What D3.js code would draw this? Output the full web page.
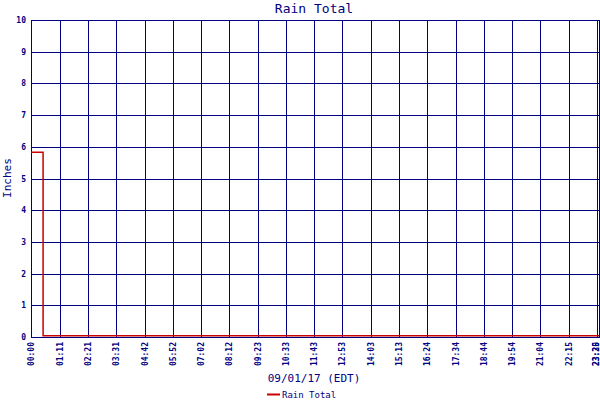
<!DOCTYPE html>
<meta charset="utf-8">
<style>
    body { margin: 0; background: #fff; }
    svg { display: block; }
    text { font-family: "DejaVu Sans Mono", "Liberation Mono", monospace; fill: #000080; }
</style>

<script src="https://d3js.org/d3.v7.min.js"></script>

<svg id="chart" width="600" height="400"></svg>

<script>

// Data (minutes after midnight, inches)
var sampleMinutes = [0, 30, 1410];
var rainValues = [5.83, 0.04, 0.04];

var tickMinutes = [0, 71, 141, 211, 282, 352, 422, 492, 563, 633, 703, 773, 843, 913, 984, 1054, 1124, 1194, 1264, 1335, 1405, 1410];
var tickLabels = ['00:00', '01:11', '02:21', '03:31', '04:42', '05:52', '07:02', '08:12', '09:23', '10:33', '11:43',
                  '12:53', '14:03', '15:13', '16:24', '17:34', '18:44', '19:54', '21:04', '22:15', '23:25', '23:30'];
var yTicks = [0, 1, 2, 3, 4, 5, 6, 7, 8, 9, 10];

var svg = d3.select('svg#chart');
var navy = '#000080';
var red = '#c80000';

// plot box (note: "top" is taken by window.top, so use plot* names)
var plotLeft = 31, plotRight = 599, plotTop = 20, plotBottom = 337;

var x = d3.scaleLinear().domain([0, 1410]).range([plotLeft, plotRight]);
var y = d3.scaleLinear().domain([0, 10]).range([plotBottom, plotTop]);

// Grid
svg.append('g')
    .selectAll('line')
    .data(tickMinutes)
    .enter().append('line')
    .attr('x1', function (d) { return Math.round(x(d)) + 0.5; })
    .attr('x2', function (d) { return Math.round(x(d)) + 0.5; })
    .attr('y1', plotTop)
    .attr('y2', plotBottom)
    .attr('stroke', navy)
    .attr('stroke-width', 1);

svg.append('g')
    .selectAll('line')
    .data(yTicks)
    .enter().append('line')
    .attr('x1', plotLeft)
    .attr('x2', plotRight + 1)
    .attr('y1', function (d) { return Math.round(y(d)) + 0.5; })
    .attr('y2', function (d) { return Math.round(y(d)) + 0.5; })
    .attr('stroke', navy)
    .attr('stroke-width', 1);

// Y tick labels
svg.append('g')
    .selectAll('text')
    .data(yTicks)
    .enter().append('text')
    .attr('x', 26)
    .attr('y', function (d) { return y(d) + 3; })
    .attr('text-anchor', 'end')
    .attr('font-size', '8px')
    .attr('font-weight', 'bold')
    .text(function (d) { return d; });

// X tick labels (rotated), kept inside the right edge
svg.append('g')
    .selectAll('text')
    .data(tickMinutes)
    .enter().append('text')
    .attr('transform', function (d) {
        return 'translate(' + Math.min(x(d) + 3, 599) + ',342) rotate(-90)';
    })
    .attr('text-anchor', 'end')
    .attr('font-size', '8px')
    .attr('font-weight', 'bold')
    .text(function (d, i) { return tickLabels[i]; });

// Rain line
var line = d3.line()
    .x(function (d) { return x(d[0]); })
    .y(function (d) { return y(d[1]); })
    .curve(d3.curveStepAfter);

svg.append('path')
    .datum(sampleMinutes.map(function (m, i) { return [m, rainValues[i]]; }))
    .attr('d', line)
    .attr('fill', 'none')
    .attr('stroke', red)
    .attr('stroke-width', 1.5);

// Titles
svg.append('text')
    .attr('x', 314)
    .attr('y', 13)
    .attr('text-anchor', 'middle')
    .attr('font-size', '13px')
    .text('Rain Total');

svg.append('text')
    .attr('transform', 'translate(11,178) rotate(-90)')
    .attr('text-anchor', 'middle')
    .attr('font-size', '11px')
    .text('Inches');

svg.append('text')
    .attr('x', 314)
    .attr('y', 382)
    .attr('text-anchor', 'middle')
    .attr('font-size', '11px')
    .text('09/01/17 (EDT)');

// Legend
svg.append('line')
    .attr('x1', 267).attr('x2', 280)
    .attr('y1', 394.5).attr('y2', 394.5)
    .attr('stroke', red)
    .attr('stroke-width', 2);

svg.append('text')
    .attr('x', 282)
    .attr('y', 398)
    .attr('font-size', '9px')
    .text('Rain Total');

</script>
